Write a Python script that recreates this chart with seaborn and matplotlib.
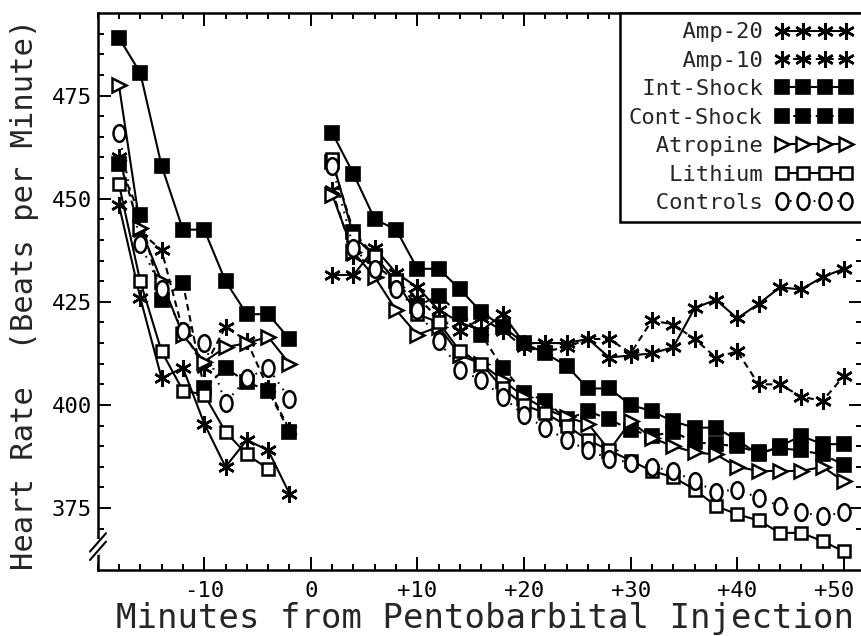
import numpy as np
import pandas as pd
import matplotlib
matplotlib.use("Agg")
import matplotlib.pyplot as plt
from matplotlib.path import Path
from matplotlib.transforms import Affine2D, ScaledTranslation
from matplotlib.ticker import FixedLocator, FixedFormatter, MultipleLocator
import seaborn as sns

# ---------------- data ----------------
pre_minutes = [-18, -16, -14, -12, -10, -8, -6, -4, -2]
post_minutes = [2, 4, 6, 8, 10, 12, 14, 16, 18, 20, 22, 24, 26,
                28, 30, 32, 34, 36, 38, 40, 42, 44, 46, 48, 50]

series_names = ["Amp-20", "Amp-10", "Int-Shock", "Cont-Shock",
                "Atropine", "Lithium", "Controls"]

amp20_pre = [448.5, 426, 406.5, 409, 395.5, 385, 391.5, 389, 378.5]
amp20_post = [431.5, 431.5, 438, 432, 428.5, 423, 420, 418, 422, 415, 415, 415, 416,
              411.5, 412, 412.5, 414, 423.5, 425.5, 421, 424.5, 428.5, 428, 431, 433]

amp10_pre = [460, 442, 437.5, 418, 409, 419, 415.5, 404, 394]
amp10_post = [452, 436, 434, 430, 426, 421, 418, 421, 418, 414, 413, 414, 416,
              416, 412.5, 420.5, 419.5, 416, 411.5, 413, 405, 405, 402, 401, 407]

intshock_pre = [489, 480.5, 458, 442.5, 442.5, 430, 422, 422, 416]
intshock_post = [466, 456, 445, 442.5, 433, 433, 428, 422.5, 419, 415, 412.5, 409.5, 404,
                 404, 400, 398.5, 396, 394.5, 394.5, 391.5, 388, 390, 392.5, 390.5, 390.5]

contshock_pre = [458.5, 446, 425.5, 429.5, 404, 409, 405.5, 403.5, 393.5]
contshock_post = [459, 442, 436, 430, 424, 426.5, 422, 417, 409, 403, 401, 396.5, 398.5,
                  396.5, 394, 392.5, 393.5, 391, 390.5, 390, 388.5, 389.5, 389, 388, 385.5]

atropine_pre = [477.5, 443, 430, 417, 410.5, 414, 415, 416.5, 410]
atropine_post = [451, 437, 431, 423, 417, 419, 412, 410, 406, 402, 399, 397, 395.5,
                 389, 396, 392, 390, 388.5, 388, 385, 384, 384, 384, 385, 381.5]

lithium_pre = [453.5, 430, 413, 403.5, 402.5, 393.5, 388, 384.5, np.nan]
lithium_post = [459.5, 441, 436, 430, 422, 420, 413, 410, 404, 400, 398, 395, 391.5,
                389, 386.5, 384, 382.5, 379.5, 375.5, 373.5, 372, 369, 369, 367, 364.5]

controls_pre = [466, 439, 428, 418, 415, 400.5, 406.5, 409, 401.5]
controls_post = [458, 438, 433, 428, 423, 415.5, 408.5, 406, 402, 397.5, 394.5, 391.5, 389,
                 387, 386, 385, 384, 381.5, 379, 379.5, 377.5, 375.5, 374, 373, 374]

x_ticks = [-10, 0, 10, 20, 30, 40, 50]
x_tick_labels = ["-10", "0", "+10", "+20", "+30", "+40", "+50"]
y_ticks = [375, 400, 425, 450, 475]
y_tick_labels = ["375", "400", "425", "450", "475"]

x_label = "Minutes from Pentobarbital Injection"
y_label = "Heart Rate  (Beats per Minute)"

series_pre = [amp20_pre, amp10_pre, intshock_pre, contshock_pre,
              atropine_pre, lithium_pre, controls_pre]
series_post = [amp20_post, amp10_post, intshock_post, contshock_post,
               atropine_post, lithium_post, controls_post]

rows = []
for name, pre, post in zip(series_names, series_pre, series_post):
    for m, v in zip(pre_minutes, pre):
        rows.append((name, "pre", m, v))
    for m, v in zip(post_minutes, post):
        rows.append((name, "post", m, v))
df = pd.DataFrame(rows, columns=["group", "segment", "minute", "bpm"]).dropna()

# ---------------- styles ----------------
sns.set_style("ticks")
plt.rcParams["font.family"] = ["DejaVu Sans Mono", "DejaVu Sans"]

ellipse = Path.unit_circle().transformed(Affine2D().scale(0.72, 1.0))
asterisk = (6, 2, 0)
solid = "-"
dashed = (0, (3.2, 2.2))
dotted = (0, (0.8, 3.0))

styles = {
    "Amp-20":     dict(marker=asterisk, ms=12, mfc="black", ls=solid, mew=1.8),
    "Amp-10":     dict(marker=asterisk, ms=12, mfc="black", ls=dashed, mew=1.8),
    "Int-Shock":  dict(marker="s", ms=9.5, mfc="black", ls=solid, mew=1.2),
    "Cont-Shock": dict(marker="s", ms=9.5, mfc="black", ls=dashed, mew=1.2),
    "Atropine":   dict(marker=">", ms=10, mfc="white", ls=solid, mew=1.8),
    "Lithium":    dict(marker="s", ms=9, mfc="white", ls=solid, mew=1.8),
    "Controls":   dict(marker=ellipse, ms=12, mfc="white", ls=dotted, mew=1.8),
}

W, H = 861, 636
fig = plt.figure(figsize=(W / 100, H / 100), dpi=100)
ax_left, ax_right, ax_bottom, ax_top = 97.6, 862.0, 570.0, 13.0
ax = fig.add_axes([ax_left / W, (H - ax_bottom) / H,
                   (ax_right - ax_left) / W, (ax_bottom - ax_top) / H])

for name in series_names:
    st = styles[name]
    d = df[df["group"] == name]
    sns.lineplot(data=d, x="minute", y="bpm", units="segment", estimator=None,
                 ax=ax, color="black", linewidth=1.5, linestyle=st["ls"],
                 marker=st["marker"], markersize=st["ms"],
                 markerfacecolor=st["mfc"], markeredgecolor="black",
                 markeredgewidth=st["mew"], label=name, legend=False)

ax.set_xlim(-20, 51.7)
ax.set_ylim(360, 495)

ax.xaxis.set_major_locator(FixedLocator(x_ticks))
ax.xaxis.set_major_formatter(FixedFormatter(x_tick_labels))
ax.xaxis.set_minor_locator(MultipleLocator(2))
ax.yaxis.set_major_locator(FixedLocator(y_ticks))
ax.yaxis.set_major_formatter(FixedFormatter(y_tick_labels))
ax.yaxis.set_minor_locator(FixedLocator(list(range(370, 495, 5))))

ax.tick_params(which="both", direction="in", top=True, right=True,
               width=1.4, color="black", labelsize=16, labelcolor="black")
ax.tick_params(which="major", length=9.5)
ax.tick_params(which="minor", length=4)
ax.tick_params(axis="x", which="major", pad=8)
ax.tick_params(axis="y", which="major", pad=4)

for sp in ax.spines.values():
    sp.set_visible(True)
    sp.set_linewidth(1.8)
    sp.set_color("black")

ax.set_xlabel(x_label, fontsize=24.5)
ax.set_ylabel(y_label, fontsize=22)
ax.xaxis.set_label_coords(0.507, -0.058)
ax.yaxis.set_label_coords(-0.077, 0.494)

# keep the last x tick label inside the picture
for lbl in ax.get_xticklabels():
    if lbl.get_text() == x_tick_labels[-1]:
        lbl.set_transform(lbl.get_transform() +
                          ScaledTranslation(-7 / 72, 0, fig.dpi_scale_trans))

# axis-break marks on the left spine
tr = ax.transAxes
ax.plot([0, 0], [0.03, 0.052], transform=tr, color="white", lw=3,
        clip_on=False, zorder=20)
for off in (0.0, -0.015):
    ax.plot([-0.010, 0.011], [0.033 + off, 0.066 + off], transform=tr,
            color="black", lw=1.5, clip_on=False, zorder=21)

# legend
handles, labels = ax.get_legend_handles_labels()
seen = {}
for h, l in zip(handles, labels):
    if l not in seen:
        seen[l] = h
ordered = [seen[n] for n in series_names]
width = max(len(n) for n in series_names)
leg = ax.legend(ordered, [n.rjust(width) for n in series_names],
                loc="upper right", bbox_to_anchor=(1.0, 1.0),
                borderaxespad=0, markerfirst=False, numpoints=4,
                handlelength=3.5, handletextpad=0.55, labelspacing=0.38,
                borderpad=0.42, fontsize=16, frameon=True, fancybox=False,
                framealpha=1)
leg.get_frame().set_edgecolor("black")
leg.get_frame().set_linewidth(1.8)
leg.set_zorder(30)

fig.savefig("out.png", dpi=100, facecolor="white")
